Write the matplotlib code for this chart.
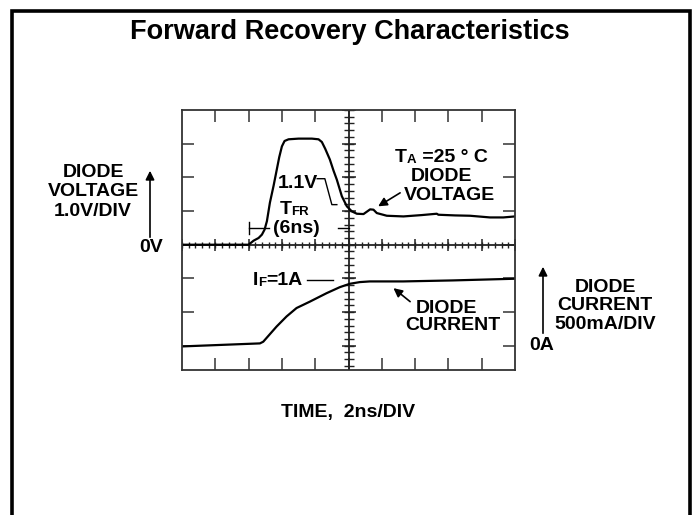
import numpy as np
import matplotlib
matplotlib.use('Agg')
from matplotlib import pyplot as plt
from matplotlib.lines import Line2D

plt.rcParams['font.family'] = ['Liberation Sans', 'DejaVu Sans']
plt.rcParams['font.weight'] = 'bold'

# scope traces, time in ns from the left edge of the screen
volt_time = [0, 4.0, 4.3, 4.6, 4.8, 4.96, 5.1, 5.28, 5.5, 5.7, 5.84, 6.0, 6.16, 6.4, 7.0, 7.8,
             8.2, 8.4, 8.6, 8.88, 9.1, 9.3, 9.6, 9.9, 10.2, 10.5, 10.9, 11.1, 11.3, 11.5, 11.7,
             12.3, 13.3, 14.4, 15.3, 15.4, 16.4, 17.3, 18.5, 19.3, 20.0]
volt_value = [0, 0, 0.12, 0.2, 0.3, 0.45, 0.7, 1.25, 1.75, 2.25, 2.6, 2.92, 3.08, 3.13, 3.15, 3.15,
              3.13, 3.05, 2.85, 2.53, 2.2, 1.93, 1.44, 1.14, 0.99, 0.92, 0.91, 0.98, 1.05, 1.04, 0.94,
              0.86, 0.84, 0.88, 0.92, 0.89, 0.87, 0.86, 0.81, 0.81, 0.84]

curr_time = [0, 4.68, 4.88, 5.68, 6.28, 6.88, 7.68, 8.68, 9.48, 10.08, 10.68, 11.28, 13.28, 16.28, 20.0]
curr_value = [-0.01, 0.035, 0.06, 0.285, 0.435, 0.56, 0.655, 0.78, 0.87, 0.92, 0.945, 0.955, 0.955,
              0.97, 0.995]

NS_PER_DIV = 2.0
V_PER_DIV = 1.0
A_PER_DIV = 0.5
CURR_ZERO_DIV = -3   # 0A sits three divisions below the centre line

W, H = 697, 515
fig = plt.figure(figsize=(W / 100, H / 100), dpi=100)


def fx(px):
    return px / W


def fy(py):
    return 1 - py / H


# outer frame (open at the bottom)
fig.add_artist(Line2D([fx(12), fx(12), fx(690), fx(690)], [0, fy(11), fy(11), 0],
                      transform=fig.transFigure, color='black', lw=2.6, solid_joinstyle='miter'))

fig.text(fx(350), fy(32), 'Forward Recovery Characteristics', ha='center', va='center',
         fontsize=19.5, fontweight='bold')

ax = fig.add_axes([fx(182), fy(370), fx(515) - fx(182), fy(110) - fy(370)])
ax.set_xlim(0, 10)
ax.set_ylim(-3.72, 4)
for sp in ax.spines.values():
    sp.set_color('#333333')
    sp.set_linewidth(1.3)
ax.set_xticks(np.arange(1, 10))
ax.set_yticks(np.arange(-3, 4))
ax.tick_params(direction='in', length=8.5, width=1.1, color='#333333', top=True, right=True,
               labelleft=False, labelbottom=False)

# centre graticule with fine ticks
ax.axhline(0, color='#222222', lw=1.3)
ax.axvline(5, color='#222222', lw=1.3)
minor_x = np.arange(0, 10.01, 0.2)
minor_y = np.arange(-3.6, 4.01, 0.2)
ax.plot(minor_x, np.zeros_like(minor_x), ls='none', marker='|', ms=5, mew=1.0, color='#222222')
ax.plot(np.arange(0, 11), np.zeros(11), ls='none', marker='|', ms=9, mew=1.1, color='#222222')
ax.plot(np.full_like(minor_y, 5), minor_y, ls='none', marker='_', ms=7, mew=1.0, color='#222222')
ax.plot(np.full(8, 5), np.arange(-3, 5), ls='none', marker='_', ms=10, mew=1.1, color='#222222')

# traces
vt = np.array(volt_time) / NS_PER_DIV
vv = np.array(volt_value) / V_PER_DIV
ct = np.array(curr_time) / NS_PER_DIV
cv = CURR_ZERO_DIV + np.array(curr_value) / A_PER_DIV
ax.plot(vt, vv, color='black', lw=1.6, solid_joinstyle='round')
ax.plot(ct, cv, color='black', lw=1.6, solid_joinstyle='round')

fs = 14
small = 9.5

# 1.1V leader
ax.text(3.49, 1.81, '1.1V', ha='center', va='center', fontsize=fs)
ax.plot([4.06, 4.29, 4.50, 4.65], [1.96, 1.96, 1.19, 1.19], color='black', lw=1.0)

# TFR marker
t_big = ax.text(2.93, 0.90, 'T', ha='left', va='baseline', fontsize=fs)
ax.annotate('FR', xy=(1, 0), xycoords=t_big, ha='left', va='bottom', fontsize=small)
ax.text(3.44, 0.48, '(6ns)', ha='center', va='center', fontsize=fs)
ax.plot([2.0, 2.6], [0.50, 0.50], color='black', lw=1.0)
ax.plot([2.0, 2.0], [0.33, 0.66], color='black', lw=1.0)
ax.plot([4.68, 5.0], [0.50, 0.50], color='black', lw=1.0)

# TA = 25 C / DIODE VOLTAGE
ta = ax.text(6.40, 2.47, 'T', ha='left', va='baseline', fontsize=fs)
ta2 = ax.annotate('A', xy=(1, 0), xycoords=ta, ha='left', va='bottom', fontsize=small)
ax.annotate(' =25 ° C', xy=(1, 0), xycoords=ta2, ha='left', va='bottom', fontsize=fs)
ax.text(7.79, 2.04, 'DIODE', ha='center', va='center', fontsize=fs)
ax.text(8.02, 1.47, 'VOLTAGE', ha='center', va='center', fontsize=fs)
ax.annotate('', xy=(5.89, 1.14), xytext=(6.55, 1.54),
            arrowprops=dict(arrowstyle='-|>', color='black', lw=1.2, mutation_scale=13,
                            shrinkA=0, shrinkB=0))

# IF = 1A / DIODE CURRENT
i_big = ax.text(2.12, -1.19, 'I', ha='left', va='baseline', fontsize=fs)
i_sub = ax.annotate('F', xy=(1, 0), xycoords=i_big, ha='left', va='bottom', fontsize=small)
ax.annotate('=1A', xy=(1, 0), xycoords=i_sub, ha='left', va='bottom', fontsize=fs)
ax.plot([3.76, 4.54], [-1.04, -1.04], color='black', lw=1.0)
ax.text(7.95, -1.89, 'DIODE', ha='center', va='center', fontsize=fs)
ax.text(8.12, -2.40, 'CURRENT', ha='center', va='center', fontsize=fs)
ax.annotate('', xy=(6.35, -1.29), xytext=(6.85, -1.69),
            arrowprops=dict(arrowstyle='-|>', color='black', lw=1.2, mutation_scale=13,
                            shrinkA=0, shrinkB=0))

# left scale label
fig.text(fx(93), fy(192), 'DIODE\nVOLTAGE\n1.0V/DIV', ha='center', va='center', fontsize=fs,
         linespacing=1.2)
fig.text(fx(151), fy(247), '0V', ha='center', va='center', fontsize=fs)
fig.add_artist(matplotlib.patches.FancyArrowPatch((fx(150), fy(240)), (fx(150), fy(168)),
                                                  transform=fig.transFigure, arrowstyle='-|>',
                                                  mutation_scale=13, lw=1.2, color='black'))

# right scale label
fig.text(fx(605), fy(306), 'DIODE\nCURRENT\n500mA/DIV', ha='center', va='center', fontsize=fs,
         linespacing=1.1)
fig.text(fx(542), fy(345), '0A', ha='center', va='center', fontsize=fs)
fig.add_artist(matplotlib.patches.FancyArrowPatch((fx(543), fy(336)), (fx(543), fy(264)),
                                                  transform=fig.transFigure, arrowstyle='-|>',
                                                  mutation_scale=13, lw=1.2, color='black'))

fig.text(fx(348), fy(412), 'TIME,  2ns/DIV', ha='center', va='center', fontsize=fs)

fig.savefig('out.png', dpi=100)
